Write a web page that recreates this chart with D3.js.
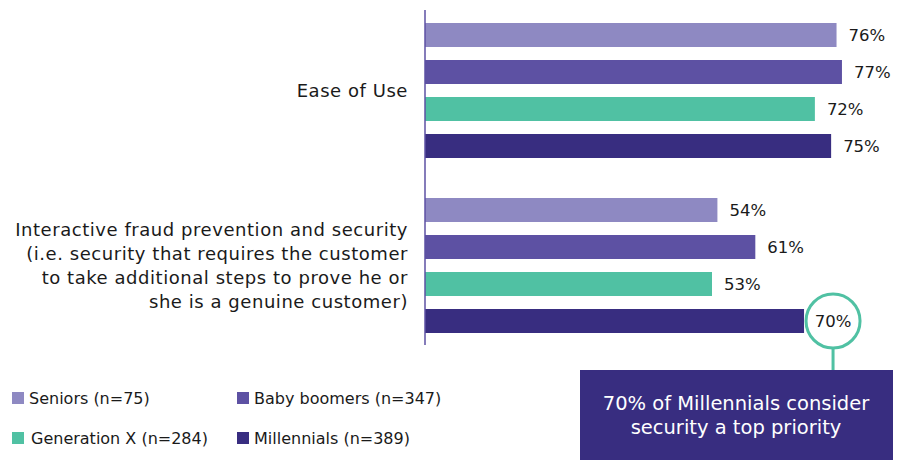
<!DOCTYPE html>
<html><head><meta charset="utf-8">
<script src="https://cdn.jsdelivr.net/npm/d3@7/dist/d3.min.js"></script>
<style>
body{margin:0;background:#fff;}
svg{display:block;font-family:"DejaVu Sans",sans-serif;}
</style></head>
<body><svg id="c" width="904" height="460"></svg>
<script>
const categories = ["Ease of Use", "Interactive fraud prevention and security"];
const categoryLines = [["Ease of Use"],
  ["Interactive fraud prevention and security","(i.e. security that requires the customer","to take additional steps to prove he or","she is a genuine customer)"]];
const series = ["Seniors (n=75)","Baby boomers (n=347)","Generation X (n=284)","Millennials (n=389)"];
const colors = ["#8e89c2","#5d51a3","#50c1a3","#382d80"];
const seniors = [76, 54];
const babyBoomers = [77, 61];
const generationX = [72, 53];
const millennials = [75, 70];
const values = [seniors, babyBoomers, generationX, millennials];
const calloutText = ["70% of Millennials consider","security a top priority"];

const svg = d3.select("#c");
const x = d3.scaleLinear().domain([0,100]).range([425, 966.5]);
const y0 = d3.scaleBand().domain(categories).range([23,333]).paddingInner(40/175).paddingOuter(0);
const y1 = d3.scaleBand().domain(series).range([0, y0.bandwidth()]).paddingInner(13/37).paddingOuter(0);

categories.forEach((c,ci)=>{
  const g = svg.append("g").attr("transform",`translate(0,${y0(c)})`);
  series.forEach((s,si)=>{
    const v = values[si][ci];
    g.append("rect").attr("x",x(0)).attr("y",y1(s)).attr("width",x(v)-x(0)).attr("height",y1.bandwidth()).attr("fill",colors[si]);
    const highlight = (si===3 && ci===1);
    if(!highlight){
      g.append("text").attr("x",x(v)+12).attr("y",y1(s)+y1.bandwidth()/2).attr("dy","0.35em")
        .attr("font-size",16.5).attr("fill","#1a1a1a").text(v+"%");
    }
  });
  const lines = categoryLines[ci];
  const cy = y0(c)+y0.bandwidth()/2;
  const lh = 24;
  lines.forEach((l,li)=>{
    svg.append("text").attr("x",408).attr("y",cy+(li-(lines.length-1)/2)*lh).attr("dy","0.35em")
      .attr("text-anchor","end").attr("font-size",18).attr("letter-spacing",0.55).attr("fill","#1a1a1a").text(l);
  });
});

svg.append("line").attr("x1",x(0)).attr("x2",x(0)).attr("y1",10).attr("y2",345).attr("stroke","#5d51a3").attr("stroke-width",1.5);

const hv = millennials[1];
const hy = y0(categories[1]) + y1(series[3]) + y1.bandwidth()/2;
const cx = x(hv)+29;
svg.append("line").attr("x1",cx).attr("x2",cx).attr("y1",hy+28).attr("y2",372).attr("stroke","#50c1a3").attr("stroke-width",3);
svg.append("rect").attr("x",580).attr("y",370).attr("width",313).attr("height",95).attr("fill","#382d80");
calloutText.forEach((t,i)=>{
  svg.append("text").attr("x",736).attr("y",403+i*24).attr("dy","0.35em").attr("text-anchor","middle")
    .attr("font-size",19.5).attr("fill","#fff").text(t);
});
svg.append("circle").attr("cx",cx).attr("cy",hy).attr("r",27).attr("fill","#fff").attr("stroke","#50c1a3").attr("stroke-width",3);
svg.append("text").attr("x",cx).attr("y",hy).attr("dy","0.35em").attr("text-anchor","middle").attr("font-size",16.5).attr("fill","#1a1a1a").text(hv+"%");

const legendPos = [[12,398],[237,398],[12,438],[237,438]];
series.forEach((s,i)=>{
  const [lx,ly] = legendPos[i];
  svg.append("rect").attr("x",lx).attr("y",ly-6).attr("width",12).attr("height",12).attr("fill",colors[i]);
  svg.append("text").attr("x",lx+(i===2?19:17)).attr("y",ly).attr("dy","0.35em").attr("font-size",16).attr("fill","#1a1a1a").text(s);
});
</script></body></html>
